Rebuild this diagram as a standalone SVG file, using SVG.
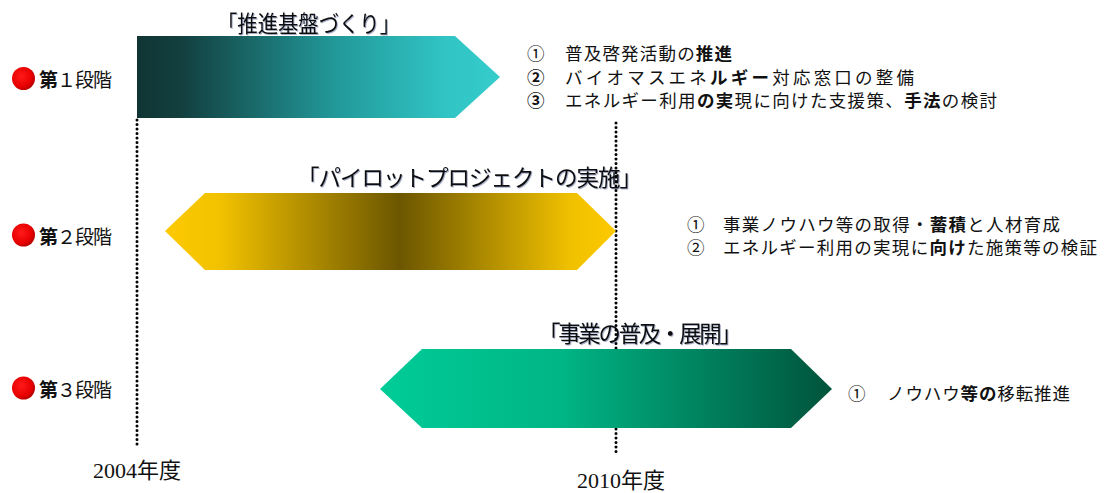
<svg xmlns="http://www.w3.org/2000/svg" width="1106" height="493" viewBox="0 0 1106 493">
<style>
.jp{font-family:"Noto Sans CJK JP","Noto Sans",sans-serif;fill:#111}
.title{font-size:22.5px;filter:url(#sh)}
.item{font-size:17.5px}
.num{font-size:17.5px}
.stage{font-size:19px}
.yr{font-family:"Liberation Serif","Noto Sans CJK JP",serif;font-size:22px;fill:#111}
.b{font-weight:bold}
.dot{stroke:#000;stroke-width:3;stroke-linecap:round;stroke-dasharray:0 4.5;fill:none}
</style>
<defs>
<filter id="sh" x="-5%" y="-20%" width="110%" height="140%">
<feDropShadow dx="1" dy="1" stdDeviation="0.5" flood-color="#2a3a70" flood-opacity="0.4"/>
</filter>
<linearGradient id="g1" x1="0" y1="0" x2="1" y2="0">
<stop offset="0" stop-color="#103434"/>
<stop offset="0.12" stop-color="#133f3f"/>
<stop offset="0.55" stop-color="#22999a"/>
<stop offset="0.85" stop-color="#31c4c4"/>
<stop offset="1" stop-color="#35cccc"/>
</linearGradient>
<linearGradient id="g2" x1="0" y1="0" x2="1" y2="0">
<stop offset="0" stop-color="#fdc900"/>
<stop offset="0.12" stop-color="#f2c200"/>
<stop offset="0.52" stop-color="#6c5600"/>
<stop offset="0.9" stop-color="#f0c100"/>
<stop offset="1" stop-color="#fdc900"/>
</linearGradient>
<linearGradient id="g3" x1="0" y1="0" x2="1" y2="0">
<stop offset="0" stop-color="#00cc98"/>
<stop offset="0.4" stop-color="#00b585"/>
<stop offset="1" stop-color="#00533b"/>
</linearGradient>
<radialGradient id="red" cx="0.4" cy="0.4" r="0.65">
<stop offset="0" stop-color="#ff1a1a"/>
<stop offset="0.7" stop-color="#e80000"/>
<stop offset="1" stop-color="#b00000"/>
</radialGradient>
</defs>
<rect width="1106" height="493" fill="#fff"/>

<g id="stage1-title"><text class="jp title" x="217" y="32" textLength="183" lengthAdjust="spacingAndGlyphs">「推進基盤づくり」</text></g>
<g id="stage2-title"><text class="jp title" x="297" y="186" textLength="345" lengthAdjust="spacing">「パイロットプロジェクトの実施」</text></g>
<g id="stage3-title"><text class="jp title" x="538" y="342" textLength="204" lengthAdjust="spacing">「事業の普及・展開」</text></g>

<g id="connectors">
<line class="dot" x1="137" y1="120" x2="137" y2="447"/>
<line class="dot" x1="616" y1="123" x2="616" y2="454"/>
</g>

<g id="stage1-arrow"><polygon points="137,36 455,36 500,77 455,118 137,118" fill="url(#g1)"/></g>
<g id="stage2-arrow"><polygon points="165,231 205,193 577,193 616,231 577,270 205,270" fill="url(#g2)"/></g>
<g id="stage3-arrow"><polygon points="380,389 422,349 791,349 832,389 791,428 422,428" fill="url(#g3)"/></g>

<g id="stage1-label">
<circle cx="23.5" cy="78.5" r="11.5" fill="url(#red)"/>
<text class="jp stage" x="39" y="87" textLength="73" lengthAdjust="spacing"><tspan class="b">第</tspan>１段階</text>
</g>
<g id="stage2-label">
<circle cx="23.5" cy="235" r="11.5" fill="url(#red)"/>
<text class="jp stage" x="39" y="243.5" textLength="73" lengthAdjust="spacing"><tspan class="b">第</tspan>２段階</text>
</g>
<g id="stage3-label">
<circle cx="23.5" cy="388" r="11.5" fill="url(#red)"/>
<text class="jp stage" x="39" y="396.5" textLength="73" lengthAdjust="spacing"><tspan class="b">第</tspan>３段階</text>
</g>

<g id="stage1-items">
<text class="jp num" x="527" y="59.5">①</text>
<text class="jp item" x="565" y="59.5" textLength="167" lengthAdjust="spacing">普及啓発活動の<tspan class="b">推進</tspan></text>
<text class="jp num b" x="527" y="83.5">②</text>
<text class="jp item" x="565" y="83.5" textLength="349" lengthAdjust="spacing">バイオマスエネ<tspan class="b">ルギー</tspan>対応窓口の整備</text>
<text class="jp num b" x="527" y="107">③</text>
<text class="jp item" x="565" y="107" textLength="432" lengthAdjust="spacing">エネルギー利用<tspan class="b">の実</tspan>現に向けた支援策、<tspan class="b">手法</tspan>の検討</text>
</g>

<g id="stage2-items">
<text class="jp num" x="687" y="230.5">①</text>
<text class="jp item" x="723" y="230.5" textLength="337" lengthAdjust="spacing">事業ノウハウ等の取得・<tspan class="b">蓄積</tspan>と人材育成</text>
<text class="jp num" x="687" y="253.5">②</text>
<text class="jp item" x="723" y="253.5" textLength="374" lengthAdjust="spacing">エネルギー利用の実現に<tspan class="b">向け</tspan>た施策等の検証</text>
</g>

<g id="stage3-items">
<text class="jp num" x="848" y="399.5">①</text>
<text class="jp item" x="887" y="399.5" textLength="183" lengthAdjust="spacing">ノウハウ<tspan class="b">等の</tspan>移転推進</text>
</g>

<g id="years">
<text class="yr" x="93" y="478">2004年度</text>
<text class="yr" x="577" y="488">2010年度</text>
</g>
</svg>
